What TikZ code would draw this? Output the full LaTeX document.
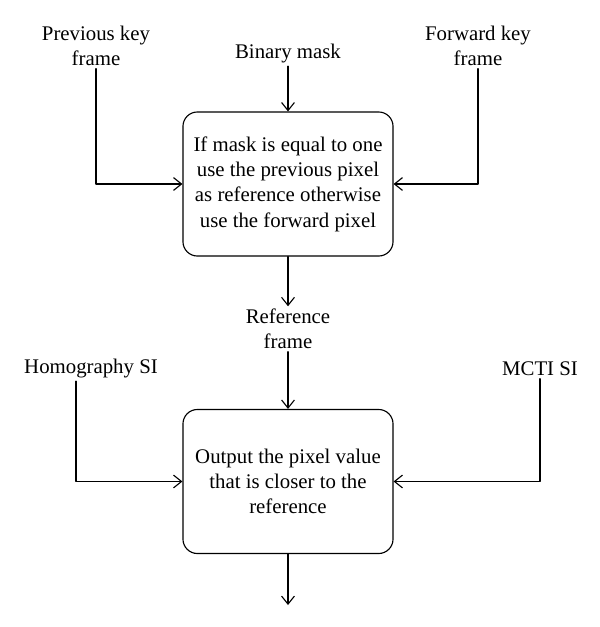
\documentclass[tikz,border=0pt]{standalone}
\usepackage{fontspec}
\setmainfont{Liberation Serif}
\usetikzlibrary{arrows.meta}
\tikzset{
  procbox/.style={draw, rounded corners=3.6mm, minimum width=5.25cm, minimum height=3.6cm, align=center},
  inlabel/.style={align=center, inner sep=1.5pt}
}
\begin{document}
\begin{tikzpicture}[x=0.025cm, y=-0.025cm, line join=round, line cap=round, line width=0.8pt,
    >={Straight Barb[length=2mm, width=3.2mm]}, font=\fontsize{14.8}{18}\selectfont]
  \useasboundingbox (0,0) rectangle (600,627);

  % the two steps
  \node[procbox] (P1) at (288,184) {If mask is equal to one\\use the previous pixel\\as reference otherwise\\use the forward pixel};
  \node[procbox] (P2) at (288,481.5) {Output the pixel value\\that is closer to the\\reference};

  % inputs
  \node[inlabel] (prev) at (96,46) {Previous key\\frame};
  \node[inlabel] (bin)  at (288,54) {Binary mask};
  \node[inlabel] (fwd)  at (478,46) {Forward key\\frame};
  \node[inlabel] (ref)  at (288,329) {Reference\\frame};
  \node[inlabel] (homo) at (91,369) {Homography SI};
  \node[inlabel] (mcti) at (540,369) {MCTI SI};

  \coordinate (hstart) at ([xshift=-0.375cm]homo.south);
  \coordinate (out) at (288,605);

  \draw[->] (prev) |- (P1);
  \draw[->] (bin) -- (P1);
  \draw[->] (fwd) |- (P1);
  \draw[->] (P1) -- (ref);
  \draw[->] (ref) -- (P2);
  \draw[->] (hstart) |- (P2);
  \draw[->] (mcti) |- (P2);
  \draw[->] (P2) -- (out);
\end{tikzpicture}
\end{document}
